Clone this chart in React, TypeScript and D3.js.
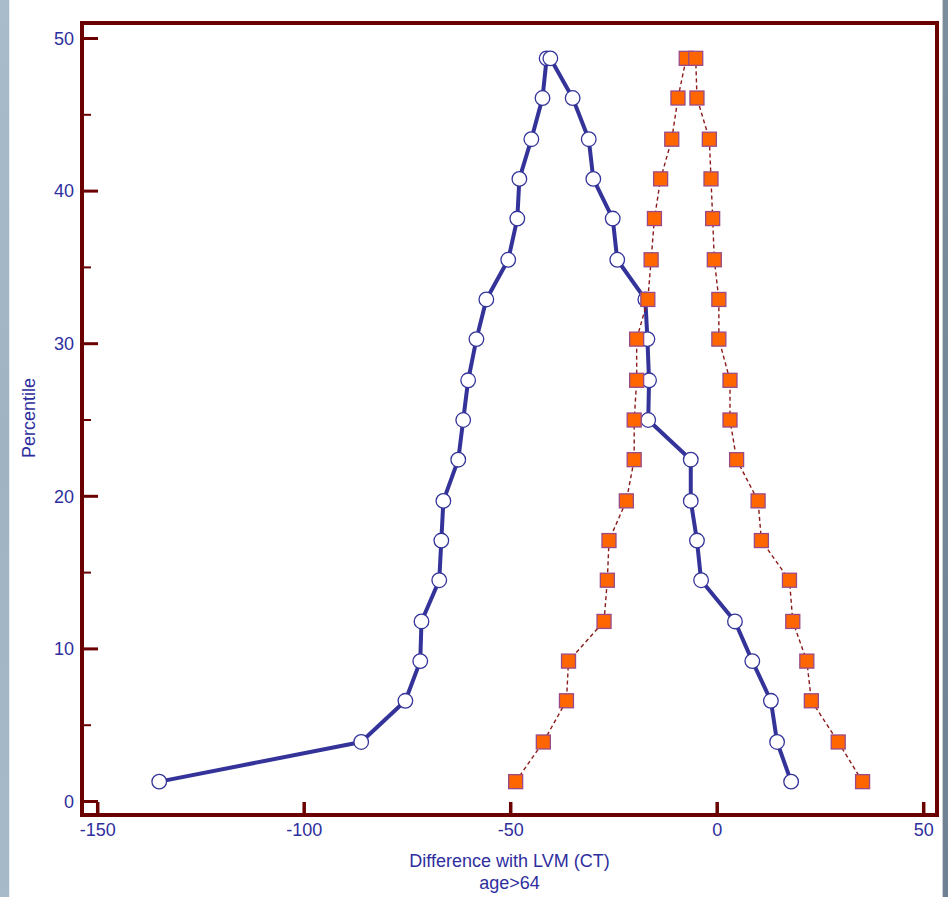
import React from "react";
import * as d3 from "d3";

const percentiles = [1.3, 3.9, 6.6, 9.2, 11.8, 14.5, 17.1, 19.7, 22.4, 25.0, 27.6, 30.3, 32.9, 35.5, 38.2, 40.8, 43.4, 46.1, 48.7];
// blue series: left branch (bottom -> top), right branch (bottom -> top)
const blueLeft = [-135.1, -86.2, -75.5, -71.9, -71.6, -67.3, -66.8, -66.3, -62.7, -61.5, -60.3, -58.3, -55.9, -50.6, -48.4, -47.9, -45.0, -42.3, -41.3];
const blueRight = [17.9, 14.5, 13.0, 8.5, 4.3, -3.9, -4.9, -6.4, -6.4, -16.7, -16.5, -16.9, -17.4, -24.2, -25.3, -30.0, -31.1, -35.0, -40.4];
// orange series
const orangeLeft = [-48.8, -42.1, -36.5, -36.0, -27.4, -26.6, -26.2, -22.0, -20.1, -20.1, -19.5, -19.5, -16.8, -16.0, -15.2, -13.7, -11.0, -9.5, -7.5];
const orangeRight = [35.2, 29.3, 22.8, 21.7, 18.3, 17.5, 10.7, 9.9, 4.7, 3.1, 3.1, 0.4, 0.4, -0.7, -1.1, -1.5, -1.9, -4.9, -5.2];

const xTicks = [-150, -100, -50, 0, 50];
const yTicks = [0, 10, 20, 30, 40, 50];
const yMinorTicks = [5, 15, 25, 35, 45];
const xTitle = "Difference with LVM (CT)";
const xSubtitle = "age>64";
const yTitle = "Percentile";

type Pt = [number, number];

function buildPath(left: number[], right: number[]): Pt[] {
  const a: Pt[] = left.map((v, i) => [v, percentiles[i]]);
  const b: Pt[] = right.map((v, i) => [v, percentiles[i]] as Pt).reverse();
  return a.concat(b);
}

export default function App() {
  const W = 948, H = 897;
  const x = d3.scaleLinear().domain([-150, 50]).range([97.7, 923.7]);
  const y = d3.scaleLinear().domain([0, 50]).range([801.5, 38.5]);
  const frame = { x1: 82, y1: 23, x2: 937, y2: 815 };
  const frameColor = "#6b0000";
  const textColor = "#2e2e9e";
  const font = "'Liberation Sans', Arial, sans-serif";
  const fs = 18;

  const line = d3.line<Pt>().x(d => x(d[0])).y(d => y(d[1]));
  const blue = buildPath(blueLeft, blueRight);
  const orange = buildPath(orangeLeft, orangeRight);

  return (
    <svg width={W} height={H} style={{ position: "absolute", left: 0, top: 0, display: "block" }}>
      <defs>
        <linearGradient id="strip" x1="0" y1="0" x2="0" y2="1">
          <stop offset="0" stopColor="#a9bccb" />
          <stop offset="0.5" stopColor="#9fb3c3" />
          <stop offset="1" stopColor="#a7bac9" />
        </linearGradient>
        <linearGradient id="strip2" x1="0" y1="0" x2="0" y2="1">
          <stop offset="0" stopColor="#7c8d9c" />
          <stop offset="1" stopColor="#6f8191" />
        </linearGradient>
      </defs>
      <rect x={0} y={0} width={W} height={H} fill="#ffffff" />
      <rect x={0} y={0} width={9} height={H} fill="url(#strip)" />
      <rect x={9} y={0} width={1} height={H} fill="#e6ecf0" />
      <rect x={942} y={0} width={1} height={H} fill="#c8cfd6" />
      <rect x={943} y={0} width={5} height={H} fill="url(#strip2)" />

      {/* frame */}
      <rect x={frame.x1} y={frame.y1} width={frame.x2 - frame.x1} height={frame.y2 - frame.y1}
        fill="none" stroke={frameColor} strokeWidth={4} />

      {/* y ticks */}
      {yTicks.map(t => (
        <line key={"yt" + t} x1={frame.x1} x2={frame.x1 + 16} y1={y(t)} y2={y(t)} stroke={frameColor} strokeWidth={3} />
      ))}
      {yMinorTicks.map(t => (
        <line key={"ym" + t} x1={frame.x1} x2={frame.x1 + 9} y1={y(t)} y2={y(t)} stroke={frameColor} strokeWidth={2} />
      ))}
      {/* x ticks */}
      {xTicks.map(t => (
        <line key={"xt" + t} x1={x(t)} x2={x(t)} y1={frame.y2} y2={frame.y2 - 13} stroke={frameColor} strokeWidth={3.5} />
      ))}

      {/* tick labels */}
      {yTicks.map(t => (
        <text key={"yl" + t} x={74} y={y(t)} dy="0.35em" textAnchor="end" fontFamily={font} fontSize={fs} fill={textColor}>{t}</text>
      ))}
      {xTicks.map(t => (
        <text key={"xl" + t} x={x(t)} y={836} textAnchor="middle" fontFamily={font} fontSize={fs} fill={textColor}>{t}</text>
      ))}

      {/* titles */}
      <text x={(frame.x1 + frame.x2) / 2} y={867} textAnchor="middle" fontFamily={font} fontSize={fs} fill={textColor}>{xTitle}</text>
      <text x={(frame.x1 + frame.x2) / 2} y={889} textAnchor="middle" fontFamily={font} fontSize={fs} fill={textColor}>{xSubtitle}</text>
      <text transform={`translate(35,418) rotate(-90)`} textAnchor="middle" fontFamily={font} fontSize={fs} fill={textColor}>{yTitle}</text>

      {/* blue series */}
      <path d={line(blue) || ""} fill="none" stroke="#333399" strokeWidth={4} strokeLinejoin="round" />
      {blue.map((d, i) => (
        <circle key={"bc" + i} cx={x(d[0])} cy={y(d[1])} r={7.3} fill="#ffffff" stroke="#333399" strokeWidth={1.3} />
      ))}

      {/* orange series */}
      <path d={line(orange) || ""} fill="none" stroke="#8b1a1a" strokeWidth={1.4} strokeDasharray="4,3" />
      {orange.map((d, i) => (
        <rect key={"os" + i} x={x(d[0]) - 7} y={y(d[1]) - 7} width={14} height={14} fill="#ff6600" stroke="#9a4a8a" strokeWidth={1.3} />
      ))}
    </svg>
  );
}
